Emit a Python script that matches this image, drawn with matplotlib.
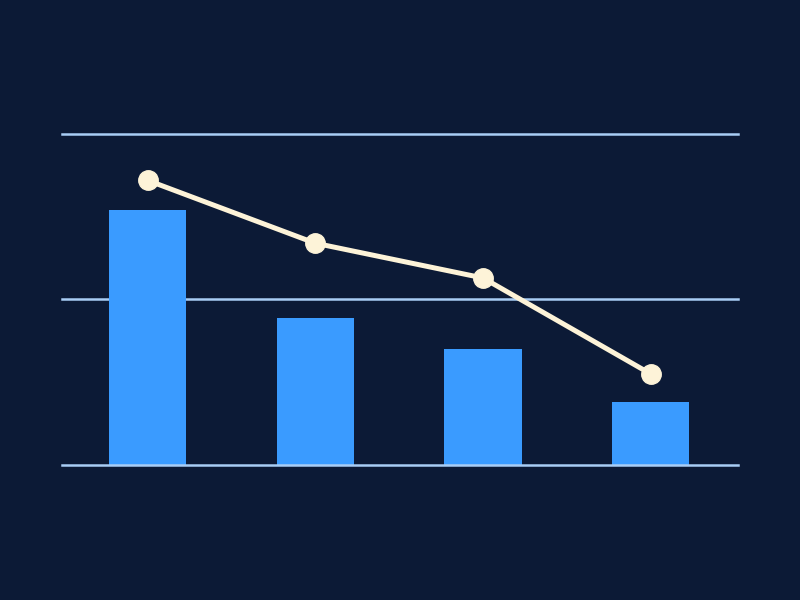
import matplotlib
matplotlib.use("Agg")
import matplotlib.pyplot as plt

categories = ["A", "B", "C", "D"]
bar_values = [77, 44.5, 35, 19]
line_values = [86, 67, 56.5, 27.5]
grid_levels = [0, 50, 100]

bg = "#0c1a36"
fig = plt.figure(figsize=(8, 6), dpi=100, facecolor=bg)
ax = fig.add_axes([0.0775, 0.225, 0.845, 0.5517])
ax.set_facecolor(bg)

x = range(len(categories))

for lvl in grid_levels:
    ax.axhline(lvl, color="#a9cdf5", lw=1.8, zorder=1 if lvl else 3, clip_on=False)

ax.bar(x, bar_values, width=0.46, color="#3a9bff", zorder=2)
ax.plot(x, line_values, color="#fdf3d8", lw=3.6, marker="o", markersize=14,
        markerfacecolor="#fdf3d8", markeredgecolor="#fdf3d8", zorder=4, clip_on=False)

ax.set_xlim(-0.51, 3.52)
ax.set_ylim(0, 100)
ax.axis("off")

fig.savefig("out.png", dpi=100, facecolor=bg)
